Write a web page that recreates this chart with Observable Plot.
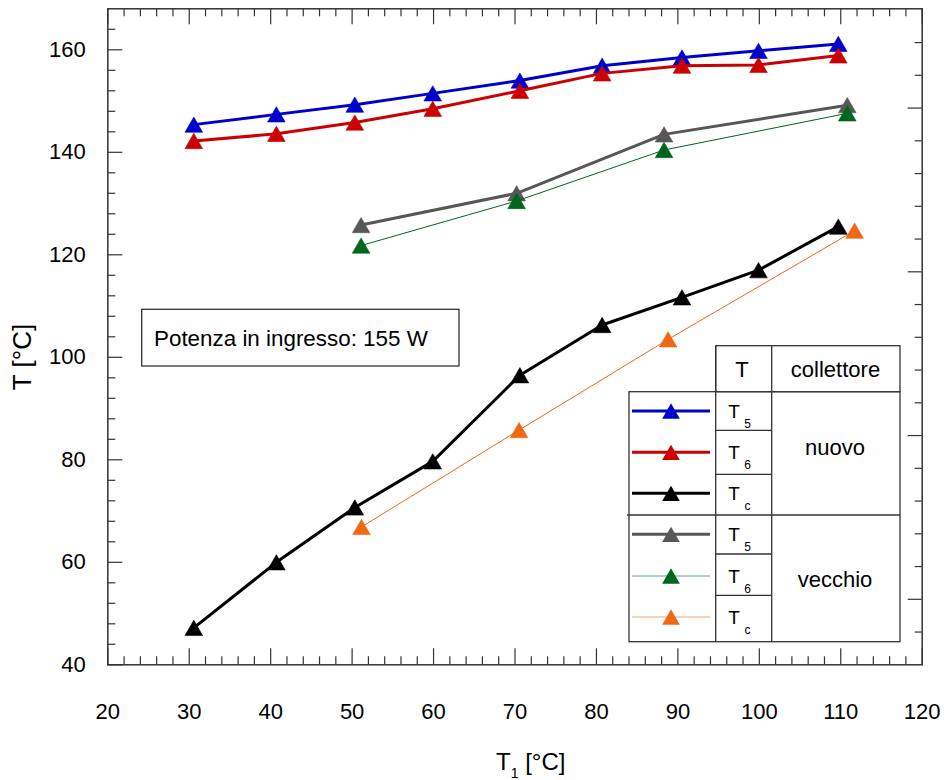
<!DOCTYPE html>
<html><head><meta charset="utf-8">
<script src="https://cdn.jsdelivr.net/npm/d3@7"></script>
<script src="https://cdn.jsdelivr.net/npm/@observablehq/plot@0.6"></script>
<style>
body{margin:0;background:#fff;font-family:"Liberation Sans",Arial,sans-serif;}
#wrap{position:relative;width:944px;height:780px;}
#wrap svg{position:absolute;left:0;top:0;}
</style></head><body><div id="wrap"></div>
<script>
// ---- data ----
const xNuovo    = [30.56, 40.7, 50.33, 59.9, 70.6, 80.7, 90.5, 99.9, 109.7];
const t5Nuovo   = [145.4, 147.4, 149.3, 151.5, 154.0, 156.9, 158.5, 159.8, 161.15];
const t6Nuovo   = [142.2, 143.6, 145.8, 148.5, 152.0, 155.4, 156.9, 157.05, 158.9];
const tcNuovo   = [47.2, 60.0, 70.7, 79.7, 96.5, 106.3, 111.7, 117.0, 125.5];
const xVecchio  = [51.1, 70.2, 88.3, 110.8];
const t5Vecchio = [125.8, 132.0, 143.5, 149.2];
const t6Vecchio = [121.8, 130.5, 140.45, 147.6];
const xTcVecchio = [51.15, 70.5, 88.8, 111.7];
const tcVecchio = [66.9, 85.8, 103.5, 124.7];

const xTickLabels = [20, 30, 40, 50, 60, 70, 80, 90, 100, 110, 120];
const yTickLabels = [40, 60, 80, 100, 120, 140, 160];
const xDomain = [20, 120];
const yDomain = [40, 168];

const legendRows = ["5", "6", "c", "5", "6", "c"];
const groupNames = ["nuovo", "vecchio"];
const headerT = "T";
const headerCol = "collettore";
const note = "Potenza in ingresso: 155 W";

const series = [
  {x: xNuovo, y: t5Nuovo, color: "#0000cc", w: 3},
  {x: xNuovo, y: t6Nuovo, color: "#cc0000", w: 3},
  {x: xNuovo, y: tcNuovo, color: "#000000", w: 3},
  {x: xVecchio, y: t5Vecchio, color: "#575757", w: 3},
  {x: xVecchio, y: t6Vecchio, color: "#00661e", w: 1},
  {x: xTcVecchio, y: tcVecchio, color: "#f06814", w: 1}
];

// ---- layout ----
const W = 944, H = 780;
const mL = 107.3, mR = 22.3, mT = 8.3, mB = 115.7;
const fw = W - mL - mR, fh = H - mT - mB;
const axisColor = "#333";

const xMinor = d3.range(20, 121, 2).filter(v => v % 10 !== 0);
const yMinor = d3.range(40, 168, 4).filter(v => v % 20 !== 0);
const rightStep = 6.39;
const rightTicks = d3.range(1, 20).map(k => ({v: 40 + k * rightStep, major: (k - 2) % 5 === 0}));

const marks = [];
// tick marks (inward)
marks.push(Plot.ruleX(xTickLabels, {stroke: axisColor, strokeWidth: 1.2, insetTop: fh - 16}));
marks.push(Plot.ruleX(xMinor, {stroke: axisColor, strokeWidth: 1.2, insetTop: fh - 8}));
marks.push(Plot.ruleX(xTickLabels, {stroke: axisColor, strokeWidth: 1.2, insetBottom: fh - 16}));
marks.push(Plot.ruleX(xMinor, {stroke: axisColor, strokeWidth: 1.2, insetBottom: fh - 8}));
marks.push(Plot.ruleY(yTickLabels, {stroke: axisColor, strokeWidth: 1.2, insetRight: fw - 15}));
marks.push(Plot.ruleY(yMinor, {stroke: axisColor, strokeWidth: 1.2, insetRight: fw - 8}));
marks.push(Plot.ruleY(rightTicks.filter(d => d.major), {y: "v", stroke: axisColor, strokeWidth: 1.2, insetLeft: fw - 14}));
marks.push(Plot.ruleY(rightTicks.filter(d => !d.major), {y: "v", stroke: axisColor, strokeWidth: 1.2, insetLeft: fw - 7}));

for (const s of series) {
  const data = s.x.map((x, i) => ({x, y: s.y[i]}));
  marks.push(Plot.line(data, {x: "x", y: "y", stroke: s.color, strokeWidth: s.w}));
  marks.push(Plot.dot(data, {x: "x", y: "y", symbol: "triangle", r: 6.56, dy: 2.55, fill: s.color, stroke: s.color, strokeWidth: 0.6}));
}

marks.push(Plot.axisX(xTickLabels, {anchor: "bottom", tickSize: 0, tickPadding: 39, fontSize: 22, label: null}));
marks.push(Plot.axisY(yTickLabels, {anchor: "left", tickSize: 0, tickPadding: 22, fontSize: 22, label: null}));
marks.push(Plot.frame({stroke: axisColor, strokeWidth: 1.5}));

const chart = Plot.plot({
  width: W, height: H,
  marginLeft: mL, marginRight: mR, marginTop: mT, marginBottom: mB,
  x: {domain: xDomain},
  y: {domain: yDomain},
  style: {fontFamily: "'Liberation Sans', Arial, sans-serif", fontSize: "22px", color: "#000", background: "transparent"},
  marks
});
const wrap = document.getElementById("wrap");
wrap.appendChild(chart);

// ---- overlay: titles, note box, legend table ----
const ov = d3.select(wrap).append("svg").attr("width", W).attr("height", H)
  .style("font-family", "'Liberation Sans', Arial, sans-serif");

// y title
ov.append("text").attr("transform", "translate(31,357) rotate(-90)")
  .attr("text-anchor", "middle").attr("font-size", 26).text("T [°C]");
// x title
const xt = ov.append("text").attr("x", 496).attr("y", 770).attr("font-size", 24);
xt.append("tspan").text("T");
xt.append("tspan").attr("font-size", 14).attr("dy", 8).text("1");
xt.append("tspan").attr("dy", -8).text(" [°C]");

// note box
ov.append("rect").attr("x", 141.7).attr("y", 309.3).attr("width", 317.3).attr("height", 56.7)
  .attr("fill", "#fff").attr("stroke", axisColor).attr("stroke-width", 1.3);
ov.append("text").attr("x", 154).attr("y", 345.5).attr("font-size", 22.4).text(note);

// legend table
const c0 = 629, c1 = 715.7, c2 = 771.7, c3 = 900;
const r = [345.7, 391.7, 430.3, 474.3, 515, 554, 595.3, 641.7];
const lg = ov.append("g").attr("stroke", axisColor).attr("stroke-width", 1.3);
lg.append("rect").attr("x", c0).attr("y", r[1]).attr("width", c3 - c0).attr("height", r[7] - r[1]).attr("fill", "#fff");
lg.append("rect").attr("x", c1).attr("y", r[0]).attr("width", c3 - c1).attr("height", r[1] - r[0]).attr("fill", "#fff");
const hl = (x1, x2, y) => lg.append("line").attr("x1", x1).attr("x2", x2).attr("y1", y).attr("y2", y);
const vl = (x, y1, y2) => lg.append("line").attr("x1", x).attr("x2", x).attr("y1", y1).attr("y2", y2);
hl(627, c3, r[4]);
[r[2], r[3], r[5], r[6]].forEach(y => hl(c1, c2, y));
vl(c1, r[0], r[7]); vl(c2, r[0], r[7]);

const sampleY = [411, 452.3, 493.3, 534.3, 576, 617];
series.forEach((s, i) => {
  const y = sampleY[i];
  ov.append("line").attr("x1", 632).attr("x2", 710).attr("y1", y).attr("y2", y)
    .attr("stroke", s.color).attr("stroke-width", s.w).attr("stroke-opacity", s.w < 2 ? 0.6 : 1);
  ov.append("path").attr("d", `M671,${y - 7.65}L${671 - 8.85},${y + 7.65}L${671 + 8.85},${y + 7.65}Z`)
    .attr("fill", s.color);
  const t = ov.append("g");
  t.append("text").attr("x", 734).attr("y", y + 7).attr("text-anchor", "middle").attr("font-size", 19).text("T");
  t.append("text").attr("x", 747.5).attr("y", y + 17).attr("text-anchor", "middle").attr("font-size", 12).text(legendRows[i]);
});
ov.append("text").attr("x", 742).attr("y", 377).attr("text-anchor", "middle").attr("font-size", 22).text(headerT);
ov.append("text").attr("x", 835.5).attr("y", 377).attr("text-anchor", "middle").attr("font-size", 22).text(headerCol);
ov.append("text").attr("x", 835).attr("y", 455).attr("text-anchor", "middle").attr("font-size", 22).text(groupNames[0]);
ov.append("text").attr("x", 835).attr("y", 587).attr("text-anchor", "middle").attr("font-size", 22).text(groupNames[1]);
</script></body></html>
